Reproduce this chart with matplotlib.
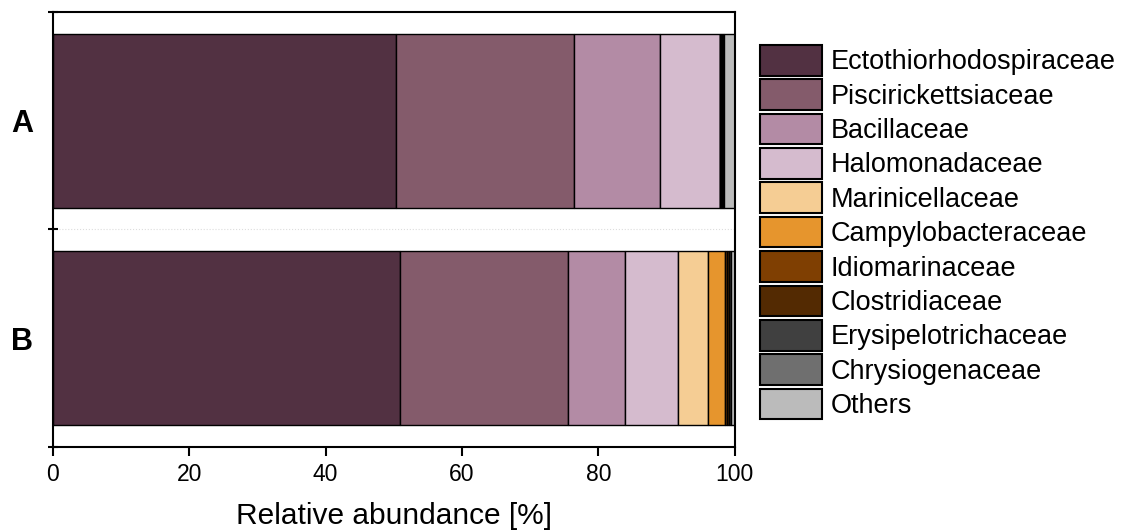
import numpy as np
import matplotlib.pyplot as plt

plt.rcParams['font.family'] = ['Liberation Sans', 'DejaVu Sans']

samples = ['A', 'B']
families = ['Ectothiorhodospiraceae', 'Piscirickettsiaceae', 'Bacillaceae',
            'Halomonadaceae', 'Marinicellaceae', 'Campylobacteraceae',
            'Idiomarinaceae', 'Clostridiaceae', 'Erysipelotrichaceae',
            'Chrysiogenaceae', 'Others']

# relative abundance [%] per family, sample A then sample B
abund_A = [50.3, 26.1, 12.7, 8.7, 0.0, 0.0, 0.1, 0.2, 0.2, 0.1, 1.6]
abund_B = [50.9, 24.7, 8.3, 7.7, 4.4, 2.5, 0.4, 0.3, 0.2, 0.1, 0.5]

colors = ['#523142', '#845b6b', '#b38ba5', '#d5bbce', '#f5cd94', '#e6952d',
          '#7f3f02', '#532a02', '#404040', '#6f6f6f', '#bbbbbb']

data = np.array([abund_A, abund_B])

fig = plt.figure(figsize=(11.26, 5.31), dpi=100)
ax = fig.add_axes([0.0468, 0.1588, 0.6058, 0.818])

ypos = np.arange(len(samples))
left = np.zeros(len(samples))
for i, fam in enumerate(families):
    ax.barh(ypos, data[:, i], left=left, height=0.8, color=colors[i],
            edgecolor='black', linewidth=1.0, label=fam)
    left += data[:, i]

ax.set_xlim(0, 100)
ax.set_ylim(1.5, -0.5)
ax.axhline(0.5, color='#dddddd', linestyle=':', linewidth=0.8, zorder=0)

ax.set_xticks([0, 20, 40, 60, 80, 100])
ax.tick_params(axis='x', direction='out', length=6.5, width=1.5, labelsize=16.5, pad=5)
ax.set_yticks(ypos)
ax.set_yticklabels(samples, fontsize=22, fontweight='bold')
ax.tick_params(axis='y', which='major', length=0, pad=14)
ax.set_yticks([-0.5, 0.5, 1.5], minor=True)
ax.tick_params(axis='y', which='minor', direction='inout', length=7, width=1.5)

for s in ax.spines.values():
    s.set_linewidth(1.5)
    s.set_color('black')

ax.set_xlabel('Relative abundance [%]', fontsize=21.5, labelpad=12)

leg = ax.legend(loc='upper left', bbox_to_anchor=(760 / 1126, 1 - 45 / 531),
                bbox_transform=fig.transFigure, frameon=False, fontsize=19.5,
                handlelength=2.29, handleheight=1.36, handletextpad=0.33,
                labelspacing=0.14, borderpad=0, borderaxespad=0)
for h in leg.legend_handles:
    h.set_linewidth(1.5)

plt.savefig('out.png', dpi=100)
